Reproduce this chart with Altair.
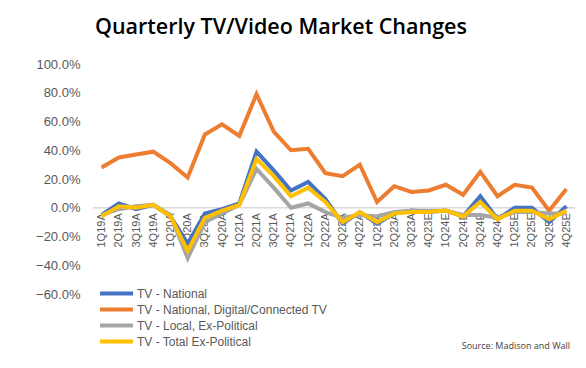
import altair as alt
import pandas as pd

quarters = ["1Q19A", "2Q19A", "3Q19A", "4Q19A", "1Q20A", "2Q20A", "3Q20A", "4Q20A",
            "1Q21A", "2Q21A", "3Q21A", "4Q21A", "1Q22A", "2Q22A", "3Q22A", "4Q22A",
            "1Q23A", "2Q23A", "3Q23A", "4Q23E", "1Q24E", "2Q24E", "3Q24E", "4Q24E",
            "1Q25E", "2Q25E", "3Q25E", "4Q25E"]

tv_national = [-5, 3, -1, 2, -6, -25, -4, -1, 3, 39, 26, 12, 18, 6, -11, -3,
               -11, -4, -2, -3, -2, -6, 8, -8, 0, 0, -10, 1]
tv_digital = [28, 35, 37, 39, 31, 21, 51, 58, 50, 79, 53, 40, 41, 24, 22, 30,
              4, 15, 11, 12, 16, 9, 25, 8, 16, 14, -2, 13]
tv_local = [-5, -1, 1, 2, -5, -35, -10, -4, 2, 27, 14, 0, 3, -3, -7, -5,
            -6, -3, -2, -2, -2, -5, -5, -7, -3, -3, -4, -4]
tv_total = [-6, 1, 0, 2, -6, -30, -7, -2, 2, 34, 22, 8, 14, 4, -10, -3,
            -10, -4, -3, -3, -2, -6, 4, -8, -2, -2, -8, -2]

series_names = ["TV - National", "TV - National, Digital/Connected TV",
                "TV - Local, Ex-Political", "TV - Total Ex-Political"]
series_colors = ["#4472C4", "#ED7D31", "#A5A5A5", "#FFC000"]
y_ticks = [-60, -40, -20, 0, 20, 40, 60, 80, 100]

rows = []
for name, vals in zip(series_names, [tv_national, tv_digital, tv_local, tv_total]):
    for i, (q, v) in enumerate(zip(quarters, vals)):
        rows.append({"series": name, "quarter": q, "value": v, "order": i})
df = pd.DataFrame(rows)

W, H = 482, 230
zero_offset = -(H - H * 100 / 160)

x_enc = alt.X("quarter:N", sort=quarters, scale=alt.Scale(type="point", padding=0.5),
              axis=alt.Axis(title=None, labelAngle=-90, domain=False, ticks=False,
                            offset=zero_offset, labelPadding=5, labelFontSize=11,
                            labelColor="#595959", labelFont="Liberation Sans"))
y_scale = alt.Scale(domain=[-60, 100], nice=False, zero=False)
y_axis = alt.Axis(title=None, values=y_ticks, grid=False, domain=False, ticks=False,
                  labelExpr="format(datum.value, '.1f') + '%'", labelFontSize=13,
                  labelColor="#595959", labelPadding=13, labelFont="Liberation Sans")

zero = alt.Chart(pd.DataFrame({"value": [0]})).mark_rule(color="#D9D9D9", strokeWidth=1.5).encode(
    y=alt.Y("value:Q", scale=y_scale, axis=y_axis)
)

lines = alt.Chart(df).mark_line(strokeWidth=4, strokeJoin="miter").encode(
    x=x_enc,
    y=alt.Y("value:Q", scale=y_scale, axis=y_axis),
    color=alt.Color("series:N", sort=series_names,
                    scale=alt.Scale(domain=series_names, range=series_colors),
                    legend=alt.Legend(title=None, orient="none", legendX=16, legendY=222,
                                      symbolType="M-3,0L3,0", symbolSize=121, symbolStrokeWidth=4,
                                      labelFontSize=12, labelColor="#595959",
                                      labelFont="Liberation Sans", rowPadding=-2, labelOffset=13,
                                      labelLimit=400)),
    detail="series:N",
    order="order:Q",
)

source = alt.Chart(pd.DataFrame({"t": ["Source: Madison and Wall"]})).mark_text(
    align="right", baseline="middle", fontSize=9, font="Open Sans", color="#404040"
).encode(x=alt.value(477), y=alt.value(282), text="t:N")

chart = alt.layer(zero, lines, source).properties(
    width=W, height=H,
    title=alt.TitleParams("Quarterly TV/Video Market Changes", anchor="start", frame="group",
                          dx=2, offset=20, fontSize=21.5, font="Open Sans", fontWeight=600,
                          color="#000000"),
    autosize=alt.AutoSizeParams(type="none"),
    padding={"left": 85, "top": 56, "right": 3, "bottom": 66},
).configure_view(stroke=None)

chart.save("out.html", embed_options={"renderer": "svg", "actions": False})
